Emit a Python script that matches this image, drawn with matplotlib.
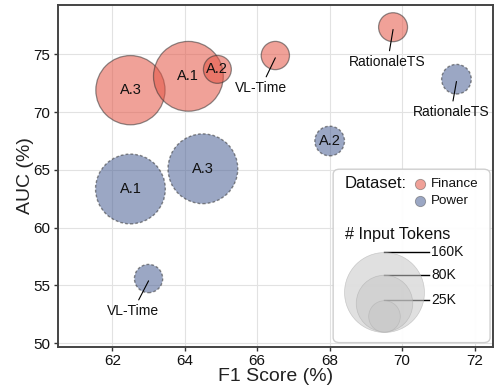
import numpy as np
import matplotlib
matplotlib.use("Agg")
import matplotlib.pyplot as plt
from matplotlib.patches import FancyBboxPatch

plt.rcParams["font.family"] = ["Liberation Sans", "DejaVu Sans"]

# data: (F1, AUC, input tokens in K)
fin_names = ["A.3", "A.1", "A.2", "VL-Time", "RationaleTS"]
fin_f1 = [62.5, 64.1, 64.9, 66.5, 69.75]
fin_auc = [71.9, 73.1, 73.7, 74.9, 77.35]
fin_tokens = [120, 122, 19.5, 20, 21]

pow_names = ["A.1", "A.3", "A.2", "VL-Time", "RationaleTS"]
pow_f1 = [62.5, 64.5, 68.0, 63.0, 71.5]
pow_auc = [63.35, 65.1, 67.5, 55.6, 72.85]
pow_tokens = [122, 122, 22, 20, 22]

legend_tokens = [160, 80, 25]
legend_labels = ["160K", "80K", "25K"]

SCALE = 20.7  # points^2 per K tokens
fin_color = "#e45444"
pow_color = "#4a6094"
inside = ["A.1", "A.2", "A.3"]

# text positions for outside labels
label_pos = {
    ("fin", "VL-Time"): (66.1, 72.1),
    ("fin", "RationaleTS"): (69.6, 74.35),
    ("pow", "VL-Time"): (62.57, 52.8),
    ("pow", "RationaleTS"): (71.35, 70.0),
}

fig = plt.figure(figsize=(4.97, 3.89), dpi=100)
ax = fig.add_axes([0.1167, 0.1087, 0.8746, 0.8793])

ax.grid(True, color="#e2e2e2", lw=0.8, zorder=0)
ax.set_axisbelow(True)

ax.scatter(fin_f1, fin_auc, s=np.array(fin_tokens) * SCALE, c=fin_color,
           alpha=0.55, edgecolors="#333333", linewidths=0.9, zorder=3)
ax.scatter(pow_f1, pow_auc, s=np.array(pow_tokens) * SCALE, c=pow_color,
           alpha=0.55, edgecolors="#333333", linewidths=1.0,
           linestyles=(0, (2, 1.5)), zorder=3)

for key, names, xs, ys in [("fin", fin_names, fin_f1, fin_auc),
                           ("pow", pow_names, pow_f1, pow_auc)]:
  for n, x, y in zip(names, xs, ys):
    if n in inside:
      ax.text(x, y, n, ha="center", va="center", fontsize=10.5, zorder=5,
              color="#111111")
    else:
      tx, ty = label_pos[(key, n)]
      ax.annotate(n, xy=(x, y - 0.2), xytext=(tx, ty), ha="center",
                  va="center", fontsize=10, zorder=5, color="#111111",
                  arrowprops=dict(arrowstyle="-", color="black", lw=0.8,
                                  shrinkA=1, shrinkB=0))

ax.set_xlim(60.5, 72.5)
ax.set_ylim(49.7, 79.3)
ax.set_xticks([62, 64, 66, 68, 70, 72])
ax.set_yticks([50, 55, 60, 65, 70, 75])
ax.tick_params(labelsize=11, length=3, width=1, color="#333333",
               labelcolor="#111111", pad=2.5)
ax.set_xlabel("F1 Score (%)", fontsize=14, labelpad=0, color="#222222")
ax.set_ylabel("AUC (%)", fontsize=14, labelpad=-0.5, color="#222222")
for sp in ax.spines.values():
  sp.set_color("#444444")
  sp.set_linewidth(1.4)

# custom legend
box = FancyBboxPatch((0.633, 0.012), 0.361, 0.507, transform=ax.transAxes,
                     boxstyle="round,pad=0,rounding_size=0.015",
                     facecolor="white", edgecolor="#cccccc", lw=1.0,
                     alpha=0.95, zorder=6)
ax.add_patch(box)
ax.text(0.660, 0.476, "Dataset:", transform=ax.transAxes, fontsize=12,
        va="center", ha="left", zorder=7, color="#111111")
ax.scatter([0.833], [0.476], s=55, c=fin_color, alpha=0.55,
           edgecolors="#555555", linewidths=0.6, transform=ax.transAxes,
           zorder=7)
ax.scatter([0.833], [0.427], s=55, c=pow_color, alpha=0.55,
           edgecolors="#555555", linewidths=0.6, transform=ax.transAxes,
           zorder=7)
ax.text(0.858, 0.476, "Finance", transform=ax.transAxes, fontsize=9.6,
        va="center", ha="left", zorder=7, color="#111111")
ax.text(0.858, 0.427, "Power", transform=ax.transAxes, fontsize=9.6,
        va="center", ha="left", zorder=7, color="#111111")
ax.text(0.660, 0.3295, "# Input Tokens", transform=ax.transAxes,
        fontsize=11.7, va="center", ha="left", zorder=7, color="#111111")

ax_h_px = fig.get_figheight() * fig.dpi * 0.8793
base_y = 0.0439
cx = 0.75
for t, lab in zip(legend_tokens, legend_labels):
  d_px = np.sqrt(t * SCALE) * fig.dpi / 72
  r_ax = d_px / 2 / ax_h_px
  ax.scatter([cx], [base_y + r_ax], s=t * SCALE, c="#c7c7c7", alpha=0.55,
             edgecolors="#aaaaaa", linewidths=0.5, transform=ax.transAxes,
             zorder=9)
  top = base_y + 2 * r_ax
  ax.plot([cx, 0.854], [top, top], color="black", lw=1.0,
          transform=ax.transAxes, zorder=8)
  ax.text(0.858, top, lab, transform=ax.transAxes, fontsize=10,
          va="center", ha="left", zorder=9, color="#111111")

fig.savefig("out.png", dpi=100)
